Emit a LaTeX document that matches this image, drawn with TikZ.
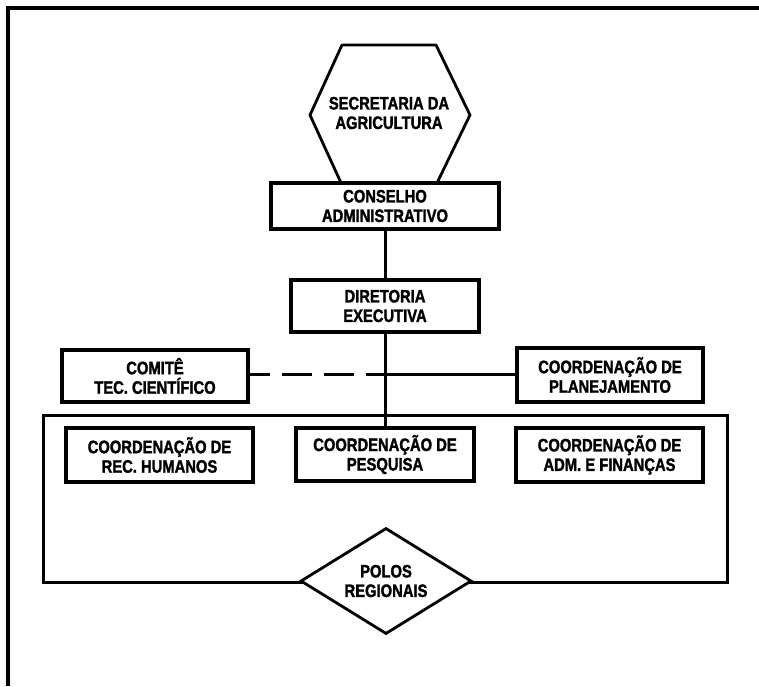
\documentclass[tikz,border=0pt]{standalone}
\usepackage{fontspec}
\newfontfamily\orgfont[FakeStretch=0.82,FakeBold=1.6]{Liberation Sans}
\usetikzlibrary{shapes.geometric}
\begin{document}
\begin{tikzpicture}[x=1pt,y=-1pt,
  lbl/.style={align=center, inner sep=0pt,
    font=\orgfont\bfseries\fontsize{18}{19.5}\selectfont},
  unitbox/.style={lbl, draw, fill=white, line width=3.6pt, rectangle},
  link/.style={line width=3pt},
  dashlink/.style={line width=3pt, dash pattern=on 30pt off 12pt, dash phase=10pt}]
\useasboundingbox (0,0) rectangle (759,686);

% outer frame (left and top sides only)
\draw[line width=3.5pt] (8,686) -- (8,8) -- (759,8);

% secretaria (hexagon)
\draw[line width=2.8pt, line join=round]
  (342,45) -- (436,45) -- (470,115) -- (436,185) -- (342,185) -- (310,115) -- cycle;
\node[lbl] (sec) at (389,113) {SECRETARIA DA\\AGRICULTURA};

% upper chain
\node[unitbox, minimum width=228pt, minimum height=46pt] (cons) at (385,206) {CONSELHO\\ADMINISTRATIVO};
\node[unitbox, minimum width=188pt, minimum height=52pt] (dir) at (385,306) {DIRETORIA\\EXECUTIVA};
\node[unitbox, minimum width=186pt, minimum height=52pt] (com) at (155,376) {COMITÊ\\TEC. CIENTÍFICO};
\node[unitbox, minimum width=186pt, minimum height=54pt] (plan) at (610,375) {COORDENAÇÃO DE\\PLANEJAMENTO};

% regional frame
\draw[line width=3pt] (43,415) rectangle (727,582);

% coordinations inside the frame
\node[unitbox, minimum width=187pt, minimum height=54pt] (rh) at (159.5,455) {COORDENAÇÃO DE\\REC. HUMANOS};
\node[unitbox, minimum width=178pt, minimum height=53pt] (pes) at (385,454.5) {COORDENAÇÃO DE\\PESQUISA};
\node[unitbox, minimum width=187pt, minimum height=54pt] (adm) at (609.5,455) {COORDENAÇÃO DE\\ADM. E FINANÇAS};

% polos regionais (diamond on the frame's lower side)
\node[lbl, shape=diamond, draw, fill=white, line width=2.8pt, aspect=1.6,
      minimum width=171pt, minimum height=106pt] (polos) at (386,581) {POLOS\\REGIONAIS};

% connectors
\coordinate (j) at (385,374);
\draw[link] (cons.south) -- (dir.north);
\draw[link] (dir.south) -- (pes.north);
\draw[dashlink] (com.east |- j) -- (j);
\draw[link] (j) -- (plan.west |- j);
\end{tikzpicture}
\end{document}
